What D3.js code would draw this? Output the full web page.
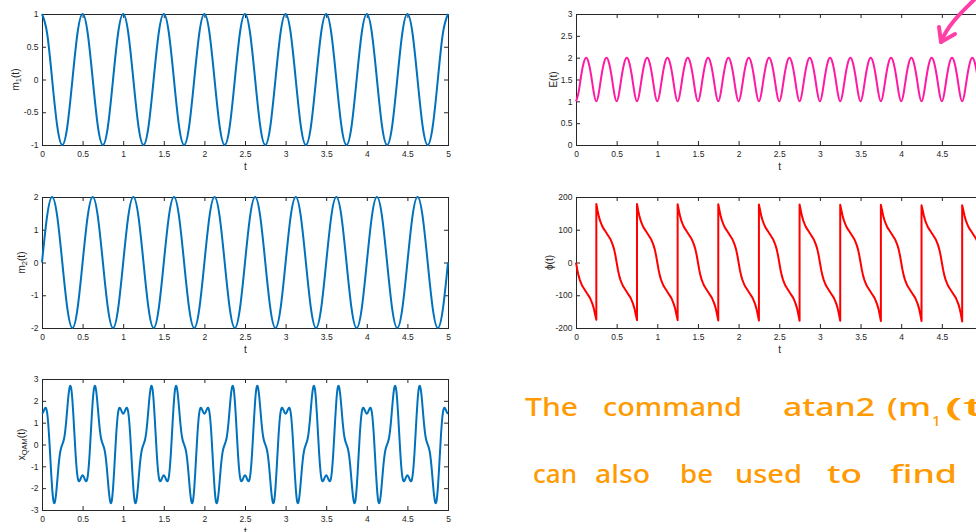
<!DOCTYPE html>
<html><head><meta charset="utf-8">
<script src="https://cdn.jsdelivr.net/npm/d3@7"></script>
<style>html,body{margin:0;padding:0;background:#fff;overflow:hidden}svg{display:block}</style>
</head><body>
<script>
// ---------- tick labels ----------
const xTicks = [0,0.5,1,1.5,2,2.5,3,3.5,4,4.5,5];
const m1Ticks = [-1,-0.5,0,0.5,1];
const m2Ticks = [-2,-1,0,1,2];
const qamTicks = [-3,-2,-1,0,1,2,3];
const eTicks = [0,0.5,1,1.5,2,2.5,3];
const phiTicks = [-200,-100,0,100,200];

const mStep = 0.0625;   // seconds between samples of m1, m2
const m1Values = [
 1,0.71,0,-0.71,-1,-0.71,0,0.71, 1,0.71,0,-0.71,-1,-0.71,0,0.71,
 1,0.71,0,-0.71,-1,-0.71,0,0.71, 1,0.71,0,-0.71,-1,-0.71,0,0.71,
 1,0.71,0,-0.71,-1,-0.71,0,0.71, 1,0.71,0,-0.71,-1,-0.71,0,0.71,
 1,0.71,0,-0.71,-1,-0.71,0,0.71, 1,0.71,0,-0.71,-1,-0.71,0,0.71,
 1,0.71,0,-0.71,-1,-0.71,0,0.71, 1,0.71,0,-0.71,-1,-0.71,0,0.71,
 1];
const m2Values = [
 0,1.41,2,1.41,0,-1.41,-2,-1.41, 0,1.41,2,1.41,0,-1.41,-2,-1.41,
 0,1.41,2,1.41,0,-1.41,-2,-1.41, 0,1.41,2,1.41,0,-1.41,-2,-1.41,
 0,1.41,2,1.41,0,-1.41,-2,-1.41, 0,1.41,2,1.41,0,-1.41,-2,-1.41,
 0,1.41,2,1.41,0,-1.41,-2,-1.41, 0,1.41,2,1.41,0,-1.41,-2,-1.41,
 0,1.41,2,1.41,0,-1.41,-2,-1.41, 0,1.41,2,1.41,0,-1.41,-2,-1.41,
 0];
const eStep = 0.03125;
const eValues = [
 1,1.2,1.58,1.88,2,1.88,1.58,1.2, 1,1.2,1.58,1.88,2,1.88,1.58,1.2,
 1,1.2,1.58,1.88,2,1.88,1.58,1.2, 1,1.2,1.58,1.88,2,1.88,1.58,1.2,
 1,1.2,1.58,1.88,2,1.88,1.58,1.2, 1,1.2,1.58,1.88,2,1.88,1.58,1.2,
 1,1.2,1.58,1.88,2,1.88,1.58,1.2, 1,1.2,1.58,1.88,2,1.88,1.58,1.2,
 1,1.2,1.58,1.88,2,1.88,1.58,1.2, 1,1.2,1.58,1.88,2,1.88,1.58,1.2,
 1,1.2,1.58,1.88,2,1.88,1.58,1.2, 1,1.2,1.58,1.88,2,1.88,1.58,1.2,
 1,1.2,1.58,1.88,2,1.88,1.58,1.2, 1,1.2,1.58,1.88,2,1.88,1.58,1.2,
 1,1.2,1.58,1.88,2,1.88,1.58,1.2, 1,1.2,1.58,1.88,2,1.88,1.58,1.2,
 1,1.2,1.58,1.88,2,1.88,1.58,1.2, 1,1.2,1.58,1.88,2,1.88,1.58,1.2,
 1,1.2,1.58,1.88,2,1.88,1.58,1.2, 1,1.2,1.58,1.88,2,1.88,1.58,1.2,
 1];
const phiStep = 1/64;   // a pair marks the wrap from -180 to +180 at one instant
const phiValues = [
 0,-22,-40,-53,-63,-72,-78,-84,-90,-96,-102,-108,-117,-127,-140,-158,
 [-175,179],158,140,127,117,108,102,96,90,84,78,72,63,53,40,22,0,-22,-40,-53,-63,-72,-78,-84,-90,-96,-102,-108,-117,-127,-140,-158,
 [-176,179],158,140,127,117,108,102,96,90,84,78,72,63,53,40,22,0,-22,-40,-53,-63,-72,-78,-84,-90,-96,-102,-108,-117,-127,-140,-158,
 [-176,178],158,140,127,117,108,102,96,90,84,78,72,63,53,40,22,0,-22,-40,-53,-63,-72,-78,-84,-90,-96,-102,-108,-117,-127,-140,-158,
 [-177,178],158,140,127,117,108,102,96,90,84,78,72,63,53,40,22,0,-22,-40,-53,-63,-72,-78,-84,-90,-96,-102,-108,-117,-127,-140,-158,
 [-177,177],158,140,127,117,108,102,96,90,84,78,72,63,53,40,22,0,-22,-40,-53,-63,-72,-78,-84,-90,-96,-102,-108,-117,-127,-140,-158,
 [-178,177],158,140,127,117,108,102,96,90,84,78,72,63,53,40,22,0,-22,-40,-53,-63,-72,-78,-84,-90,-96,-102,-108,-117,-127,-140,-158,
 [-178,176],158,140,127,117,108,102,96,90,84,78,72,63,53,40,22,0,-22,-40,-53,-63,-72,-78,-84,-90,-96,-102,-108,-117,-127,-140,-158,
 [-179,176],158,140,127,117,108,102,96,90,84,78,72,63,53,40,22,0,-22,-40,-53,-63,-72,-78,-84,-90,-96,-102,-108,-117,-127,-140,-158,
 [-179,175],158,140,127,117,108,102,96,90,84,78,72,63,53,40,22,0,-22,-40,-53,-63,-72,-78,-84,-90,-96,-102,-108,-117,-127,-140,-158,
 [-180,175],158,140,127,117,108,102,96,90,84,78,72,63,53,40,22,0];
const qamStep = 0.0125;
const qamValues = [
 1.41,1.46,1.57,1.67,1.66,1.47,1.03,0.37,-0.44,-1.27,-2.00,-2.50,-2.69,-2.57,-2.21,-1.69,-1.14,-0.67,-0.33,-0.13,
 0,0.13,0.33,0.67,1.14,1.69,2.21,2.57,2.69,2.50,2.00,1.27,0.44,-0.37,-1.03,-1.47,-1.66,-1.67,-1.57,-1.46,
 -1.41,-1.46,-1.57,-1.67,-1.66,-1.47,-1.03,-0.37,0.44,1.27,2.00,2.50,2.69,2.57,2.21,1.69,1.14,0.67,0.33,0.13,
 0,-0.13,-0.33,-0.67,-1.14,-1.69,-2.21,-2.57,-2.69,-2.50,-2.00,-1.27,-0.44,0.37,1.03,1.47,1.66,1.67,1.57,1.46,
 1.41,1.46,1.57,1.67,1.66,1.47,1.03,0.37,-0.44,-1.27,-2.00,-2.50,-2.69,-2.57,-2.21,-1.69,-1.14,-0.67,-0.33,-0.13,
 0,0.13,0.33,0.67,1.14,1.69,2.21,2.57,2.69,2.50,2.00,1.27,0.44,-0.37,-1.03,-1.47,-1.66,-1.67,-1.57,-1.46,
 -1.41,-1.46,-1.57,-1.67,-1.66,-1.47,-1.03,-0.37,0.44,1.27,2.00,2.50,2.69,2.57,2.21,1.69,1.14,0.67,0.33,0.13,
 0,-0.13,-0.33,-0.67,-1.14,-1.69,-2.21,-2.57,-2.69,-2.50,-2.00,-1.27,-0.44,0.37,1.03,1.47,1.66,1.67,1.57,1.46,
 1.41,1.46,1.57,1.67,1.66,1.47,1.03,0.37,-0.44,-1.27,-2.00,-2.50,-2.69,-2.57,-2.21,-1.69,-1.14,-0.67,-0.33,-0.13,
 0,0.13,0.33,0.67,1.14,1.69,2.21,2.57,2.69,2.50,2.00,1.27,0.44,-0.37,-1.03,-1.47,-1.66,-1.67,-1.57,-1.46,
 -1.41,-1.46,-1.57,-1.67,-1.66,-1.47,-1.03,-0.37,0.44,1.27,2.00,2.50,2.69,2.57,2.21,1.69,1.14,0.67,0.33,0.13,
 0,-0.13,-0.33,-0.67,-1.14,-1.69,-2.21,-2.57,-2.69,-2.50,-2.00,-1.27,-0.44,0.37,1.03,1.47,1.66,1.67,1.57,1.46,
 1.41,1.46,1.57,1.67,1.66,1.47,1.03,0.37,-0.44,-1.27,-2.00,-2.50,-2.69,-2.57,-2.21,-1.69,-1.14,-0.67,-0.33,-0.13,
 0,0.13,0.33,0.67,1.14,1.69,2.21,2.57,2.69,2.50,2.00,1.27,0.44,-0.37,-1.03,-1.47,-1.66,-1.67,-1.57,-1.46,
 -1.41,-1.46,-1.57,-1.67,-1.66,-1.47,-1.03,-0.37,0.44,1.27,2.00,2.50,2.69,2.57,2.21,1.69,1.14,0.67,0.33,0.13,
 0,-0.13,-0.33,-0.67,-1.14,-1.69,-2.21,-2.57,-2.69,-2.50,-2.00,-1.27,-0.44,0.37,1.03,1.47,1.66,1.67,1.57,1.46,
 1.41,1.46,1.57,1.67,1.66,1.47,1.03,0.37,-0.44,-1.27,-2.00,-2.50,-2.69,-2.57,-2.21,-1.69,-1.14,-0.67,-0.33,-0.13,
 0,0.13,0.33,0.67,1.14,1.69,2.21,2.57,2.69,2.50,2.00,1.27,0.44,-0.37,-1.03,-1.47,-1.66,-1.67,-1.57,-1.46,
 -1.41,-1.46,-1.57,-1.67,-1.66,-1.47,-1.03,-0.37,0.44,1.27,2.00,2.50,2.69,2.57,2.21,1.69,1.14,0.67,0.33,0.13,
 0,-0.13,-0.33,-0.67,-1.14,-1.69,-2.21,-2.57,-2.69,-2.50,-2.00,-1.27,-0.44,0.37,1.03,1.47,1.66,1.67,1.57,1.46,
 1.41];

// ---------- helpers ----------
function toPoints(values, step){
  const pts = [];
  values.forEach((v,i)=>{
    const t = i*step;
    if (Array.isArray(v)) v.forEach(u=>pts.push([t,u])); else pts.push([t,v]);
  });
  return pts;
}

const W = 976, H = 532;
const FONT = "'Liberation Sans', Arial, Helvetica, sans-serif";
const AX = '#262626';
const svg = d3.select('body').append('svg').attr('width',W).attr('height',H)
  .style('font-family',FONT);

function panel(cfg){
  const g = svg.append('g');
  const x = d3.scaleLinear().domain([0,5]).range([cfg.x0,cfg.x1]);
  const y = d3.scaleLinear().domain([cfg.yTicks[0], cfg.yTicks[cfg.yTicks.length-1]]).range([cfg.y1,cfg.y0]);
  const fmt = d=>String(d);

  const styleAxis = sel=>{
    sel.select('.domain').remove();
    sel.selectAll('.tick line').attr('stroke',AX).attr('stroke-width',1);
    sel.selectAll('.tick text').attr('fill',AX).style('font-size','8.5px').style('font-family',FONT);
  };
  g.append('g').attr('transform',`translate(0,${cfg.y1})`)
    .call(d3.axisBottom(x).tickValues(xTicks).tickFormat(fmt).tickSizeInner(-4).tickSizeOuter(0).tickPadding(5.5))
    .call(styleAxis);
  g.append('g').attr('transform',`translate(0,${cfg.y0})`)
    .call(d3.axisTop(x).tickValues(xTicks).tickFormat('').tickSizeInner(-4).tickSizeOuter(0))
    .call(styleAxis);
  g.append('g').attr('transform',`translate(${cfg.x0},0)`)
    .call(d3.axisLeft(y).tickValues(cfg.yTicks).tickFormat(fmt).tickSizeInner(-4).tickSizeOuter(0).tickPadding(3.5))
    .call(styleAxis);
  g.append('g').attr('transform',`translate(${cfg.x1},0)`)
    .call(d3.axisRight(y).tickValues(cfg.yTicks).tickFormat('').tickSizeInner(-4).tickSizeOuter(0))
    .call(styleAxis);
  g.append('rect').attr('x',cfg.x0+0.5).attr('y',cfg.y0+0.5)
    .attr('width',cfg.x1-cfg.x0).attr('height',cfg.y1-cfg.y0)
    .attr('fill','none').attr('stroke',AX).attr('stroke-width',1);

  const line = d3.line().x(d=>x(d[0])).y(d=>y(d[1])).curve(cfg.curve);
  g.append('path').datum(cfg.points).attr('d',line)
    .attr('fill','none').attr('stroke',cfg.color).attr('stroke-width',2)
    .attr('stroke-linejoin','round').attr('stroke-linecap','butt');

  // x label
  g.append('text').attr('x',(cfg.x0+cfg.x1)/2 + 0.5).attr('y',cfg.y1+25)
    .attr('text-anchor','middle').attr('fill',AX).style('font-size','10px').text('t');
  // y label
  const yl = g.append('text')
    .attr('transform',`translate(${cfg.labelX+3.5},${(cfg.y0+cfg.y1)/2}) rotate(-90)`)
    .attr('text-anchor','middle').attr('fill',AX).style('font-size','10px');
  cfg.label.forEach(part=>{
    const ts = yl.append('tspan').text(part.t);
    if (part.sub) ts.style('font-size','7.5px').attr('baseline-shift','-25%');
  });
}

const LX0 = 42, LX1 = 448, RX0 = 576, RX1 = 982.5;
panel({x0:LX0,x1:LX1,y0:14,y1:145,yTicks:m1Ticks,points:toPoints(m1Values,mStep),
  curve:d3.curveNatural,color:'#0072BD',labelX:15,
  label:[{t:'m'},{t:'1',sub:true},{t:'(t)'}]});
panel({x0:LX0,x1:LX1,y0:197,y1:328,yTicks:m2Ticks,points:toPoints(m2Values,mStep),
  curve:d3.curveNatural,color:'#0072BD',labelX:21,
  label:[{t:'m'},{t:'2',sub:true},{t:'(t)'}]});
panel({x0:LX0,x1:LX1,y0:379,y1:510,yTicks:qamTicks,points:toPoints(qamValues,qamStep),
  curve:d3.curveNatural,color:'#0072BD',labelX:21,
  label:[{t:'x'},{t:'QAM',sub:true},{t:'(t)'}]});
panel({x0:RX0,x1:RX1,y0:14,y1:145,yTicks:eTicks,points:toPoints(eValues,eStep),
  curve:d3.curveNatural,color:'#FF1AA3',labelX:553,
  label:[{t:'E(t)'}]});
panel({x0:RX0,x1:RX1,y0:197,y1:328,yTicks:phiTicks,points:toPoints(phiValues,phiStep),
  curve:d3.curveLinear,color:'#FF0000',labelX:549,
  label:[{t:'\u03D5(t)'}]});

// ---------- handwritten annotation ----------
const ann = svg.append('g').attr('fill','#FF9A00')
  .style('font-family',"'Noto Sans', 'Open Sans', sans-serif").style('font-weight','500');
const words = [
  {t:'The', x:525, y:416, w:53},
  {t:'command', x:603, y:416, w:139},
  {t:'atan2', x:783, y:416, w:92},
  {t:'(m', x:887, y:416, w:44},
  {t:'(t', x:945, y:416, w:40},
  {t:'can', x:533, y:483, w:44},
  {t:'also', x:595, y:483, w:55},
  {t:'be', x:680, y:483, w:33},
  {t:'used', x:735, y:483, w:67},
  {t:'to', x:827, y:483, w:35},
  {t:'find', x:890, y:483, w:67}
];
words.forEach(w=>{
  ann.append('text').attr('x',w.x).attr('y',w.y).attr('textLength',w.w)
    .attr('lengthAdjust','spacingAndGlyphs').style('font-size','26px').text(w.t);
});
ann.append('text').attr('x',932).attr('y',426).style('font-size','15px').text('1');

// pink arrow
svg.append('path').attr('d','M977,-3 C964,10 948,24 941,42')
  .attr('fill','none').attr('stroke','#FF3FA6').attr('stroke-width',4).attr('stroke-linecap','round');
svg.append('path').attr('d','M939,27 L941,42 L955,34')
  .attr('fill','none').attr('stroke','#FF3FA6').attr('stroke-width',4)
  .attr('stroke-linecap','round').attr('stroke-linejoin','round');
</script>
</body></html>
